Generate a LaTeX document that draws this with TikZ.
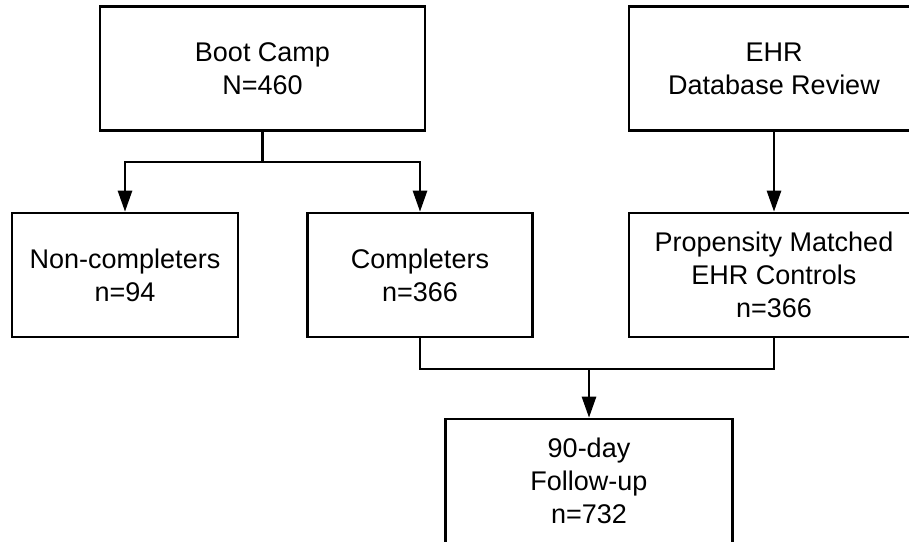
\documentclass[tikz,border=0pt]{standalone}
\usepackage{fontspec}
\setmainfont{Liberation Sans}
\usetikzlibrary{arrows.meta}
\begin{document}
\begin{tikzpicture}[x=1pt,y=-1pt,>={Triangle[length=21pt,width=14pt]},line join=miter,
	font=\fontsize{27}{33}\selectfont,
	stage/.style={draw,line width=2.6pt,align=center,minimum height=124pt,inner sep=0pt},
	link/.style={line width=2.6pt}]
	\useasboundingbox (0,0) rectangle (909,541);
	\node[stage,minimum width=325pt] (boot) at (262.5,68.5) {Boot Camp\\N=460};
	\node[stage,minimum width=290pt] (ehr) at (774,68.5) {EHR\\Database Review};
	\node[stage,minimum width=226pt] (noncomp) at (125,275) {Non-completers\\n=94};
	\node[stage,minimum width=225pt] (comp) at (420,275) {Completers\\n=366};
	\node[stage,minimum width=290pt] (prop) at (774,275) {Propensity Matched\\EHR Controls\\n=366};
	\node[stage,minimum width=287pt] (follow) at (589,481) {90-day\\Follow-up\\n=732};
	% split and merge points
	\coordinate (split) at (262.5,162);
	\coordinate (merge) at (589,369);
	\draw[link] (boot.south) -- (split);
	\draw[link,->] (split) -| (noncomp.north);
	\draw[link,->] (split) -| (comp.north);
	\draw[link,->] (ehr.south) -- (prop.north);
	\draw[link] (comp.south) |- (merge);
	\draw[link] (prop.south) |- (merge);
	\draw[link,->] (merge) -- (follow.north);
\end{tikzpicture}
\end{document}
